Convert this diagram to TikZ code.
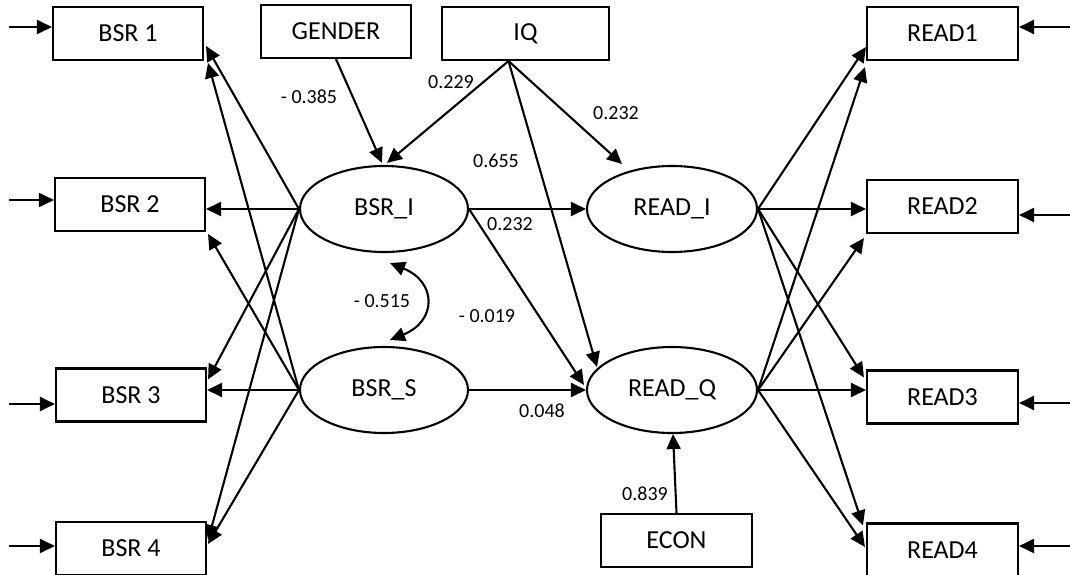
\documentclass[tikz,border=0pt]{standalone}
\usepackage{fontspec}
\setmainfont{Carlito}
\usetikzlibrary{arrows.meta,shapes.geometric}
\begin{document}
\begin{tikzpicture}[x=1pt,y=-1pt,line width=2.1pt,
  box/.style={draw,rectangle,minimum width=150pt,minimum height=53pt,inner sep=0pt,font=\fontsize{26}{30}\selectfont},
  lat/.style={draw,ellipse,minimum width=168pt,minimum height=86pt,inner sep=0pt,font=\fontsize{26}{30}\selectfont},
  lbl/.style={font=\fontsize{20}{24}\selectfont,inner sep=0pt},
  arr/.style={-{Triangle[length=15pt,width=14pt]}},
  darr/.style={{Triangle[length=15pt,width=14pt]}-{Triangle[length=15pt,width=14pt]}}]
\clip (0,0) rectangle (1070,575);
% observed indicators
\node[box] (bsr1) at (128,33.5) {BSR 1};
\node[box] (bsr2) at (130,204.5) {BSR 2};
\node[box] (bsr3) at (131,395) {BSR 3};
\node[box] (bsr4) at (131,548.5) {BSR 4};
\node[box] (gender) at (336,31.5) {GENDER};
\node[box,minimum width=167pt] (iq) at (525.5,33.5) {IQ};
\node[box,minimum width=151pt] (read1) at (942.5,33.5) {READ1};
\node[box,minimum width=151pt] (read2) at (942.5,206.5) {READ2};
\node[box,minimum width=151pt] (read3) at (942.5,397) {READ3};
\node[box,minimum width=151pt] (read4) at (942.5,550) {READ4};
\node[box,minimum width=151pt] (econ) at (676.5,540.5) {ECON};
% latent
\node[lat] (bsrI) at (384,209) {BSR\_I};
\node[lat] (bsrS) at (384,390) {BSR\_S};
\node[lat,minimum width=170pt] (readI) at (672,209) {READ\_I};
\node[lat,minimum width=170pt] (readQ) at (672,390) {READ\_Q};
% error arrows
\coordinate (eb1) at (9,27);
\coordinate (eb2) at (9,200);
\coordinate (eb3) at (9,404);
\coordinate (eb4) at (9,546);
\coordinate (er1) at (1070,27);
\coordinate (er2) at (1070,215);
\coordinate (er3) at (1070,403);
\coordinate (er4) at (1070,546);
\draw[arr] (eb1) -- (eb1 -| bsr1.west);
\draw[arr] (eb2) -- (eb2 -| bsr2.west);
\draw[arr] (eb3) -- (eb3 -| bsr3.west);
\draw[arr] (eb4) -- (eb4 -| bsr4.west);
\draw[arr] (er1) -- (er1 -| read1.east);
\draw[arr] (er2) -- (er2 -| read2.east);
\draw[arr] (er3) -- (er3 -| read3.east);
\draw[arr] (er4) -- (er4 -| read4.east);
% loadings left
\draw[arr] (bsrI.west) -- ([shift={(2,12.5)}]bsr1.east);
\draw[arr] (bsrI.west) -- (bsrI.west -| bsr2.east);
\draw[arr] (bsrI.west) -- ([shift={(1,12)}]bsr3.north east);
\draw[arr] (bsrI.west) -- ([shift={(1,19)}]bsr4.north east);
\draw[arr] (bsrS.west) -- ([shift={(4,2)}]bsr1.south east);
\draw[arr] (bsrS.west) -- ([shift={(2,2)}]bsr2.south east);
\draw[arr] (bsrS.west) -- (bsrS.west -| bsr3.east);
\draw[arr] (bsrS.west) -- ([shift={(1,23)}]bsr4.north east);
% loadings right
\draw[arr] (readI.east) -- ([shift={(0,13.5)}]read1.west);
\draw[arr] (readI.east) -- (readI.east -| read2.west);
\draw[arr] (readI.east) -- ([shift={(-2,8)}]read3.north west);
\draw[arr] (readI.east) -- ([shift={(-3,3)}]read4.north west);
\draw[arr] (readQ.east) -- ([shift={(-1,6)}]read1.south west);
\draw[arr] (readQ.east) -- ([shift={(-2,4)}]read2.south west);
\draw[arr] (readQ.east) -- (readQ.east -| read3.west);
\draw[arr] (readQ.east) -- ([shift={(-1,-3)}]read4.west);
% structural paths
\draw[arr] (gender.south) -- ([shift={(-2,-2)}]bsrI.north);
\draw[arr] ([xshift=-17pt]iq.south) -- ([shift={(3,-2)}]bsrI.north);
\draw[arr] ([xshift=-17pt]iq.south) -- ([shift={(-50,-1)}]readI.north);
\draw[arr] ([xshift=-17pt]iq.south) -- ([shift={(-75,-23)}]readQ.center);
\draw[arr] (bsrI.east) -- (readI.west);
\draw[arr] (bsrI.east) -- ([shift={(-2,-5)}]readQ.west);
\draw[arr] (bsrS.east) -- (readQ.west);
\draw[arr] (econ.north) -- ([shift={(1,0)}]readQ.south);
% covariance
\coordinate (c1) at ([shift={(6,10)}]bsrI.south);
\coordinate (c2) at ([shift={(6,-6)}]bsrS.north);
\draw[darr] (c1) .. controls (437,282) and (437,321) .. (c2);
% labels
\node[lbl] (l1) at (309,97) {- 0.385};
\node[lbl] (l2) at (451,82) {0.229};
\node[lbl] (l3) at (496,161) {0.655};
\node[lbl] (l4) at (616,113) {0.232};
\node[lbl] (l5) at (510,224) {0.232};
\node[lbl] (l6) at (382,301) {- 0.515};
\node[lbl] (l7) at (487,316) {- 0.019};
\node[lbl] (l8) at (542,411) {0.048};
\node[lbl] (l9) at (645,494) {0.839};
\end{tikzpicture}
\end{document}
